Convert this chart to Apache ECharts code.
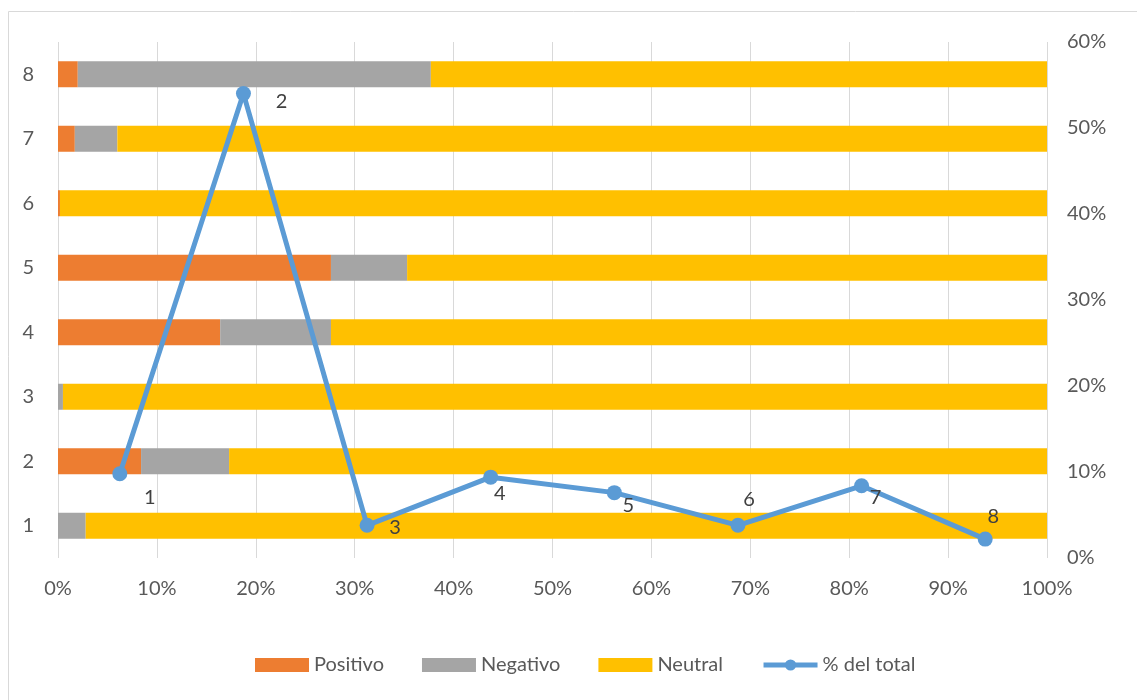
<!DOCTYPE html>
<html>
<head>
<meta charset="utf-8">
<script src="https://cdn.jsdelivr.net/npm/echarts@6/dist/echarts.min.js"></script>
<style>
  html, body { margin: 0; padding: 0; background: #fff; }
  #chart { width: 1137px; height: 700px; }
</style>
</head>
<body>
<div id="chart"></div>
<script>
// categorias
var categories = ['1', '2', '3', '4', '5', '6', '7', '8'];
// valores en % (apilados hasta 100)
var positivo = [0, 8.4, 0, 16.4, 27.6, 0.2, 1.7, 2.0];
var negativo = [2.8, 8.9, 0.5, 11.2, 7.7, 0, 4.3, 35.7];
var neutral = [97.2, 82.7, 99.5, 72.4, 64.7, 99.8, 94.0, 62.3];
// % del total (eje derecho)
var delTotal = [9.8, 54.0, 3.8, 9.4, 7.6, 3.8, 8.4, 2.2];
// posicion de las etiquetas de la linea
var labelOffsets = [[30, 24], [38, 8], [28, 2], [9, 16], [14, 13], [11, -26], [14, 12], [8, -23]];

var chart = echarts.init(document.getElementById('chart'));
var font = 'Lato, "Liberation Sans", sans-serif';
var txt = '#595959';

var lineData = delTotal.map(function (v, i) {
    return {
        value: v,
        label: { show: true, position: 'inside', offset: labelOffsets[i], formatter: categories[i] }
    };
});

var option = {
    animation: false,
    textStyle: { fontFamily: font },
    graphic: [{
        type: 'rect',
        shape: { x: 8.5, y: 11.5, width: 1140, height: 700 },
        style: { fill: 'none', stroke: '#d9d9d9', lineWidth: 1 }
    }],
    grid: { left: 58, right: 90, top: 42, bottom: 142 },
    legend: {
        bottom: 20,
        left: 250,
        itemWidth: 54,
        itemHeight: 14,
        itemGap: 38,
        textStyle: { fontSize: 20, color: txt, fontFamily: font },
        data: [
            { name: 'Positivo', icon: 'rect' },
            { name: 'Negativo', icon: 'rect' },
            { name: 'Neutral', icon: 'rect' },
            { name: '% del total', lineStyle: { width: 5 } }
        ]
    },
    xAxis: [{
        type: 'value',
        min: 0,
        max: 100,
        interval: 10,
        axisLine: { show: false },
        axisTick: { show: false },
        axisLabel: { formatter: '{value}%', fontSize: 20, color: txt, margin: 21 },
        splitLine: { show: true, lineStyle: { color: '#d9d9d9', width: 1 } }
    }, {
        type: 'category',
        data: categories,
        show: false,
        boundaryGap: true
    }],
    yAxis: [{
        type: 'category',
        data: categories,
        axisLine: { show: false },
        axisTick: { show: false },
        axisLabel: { fontSize: 20, color: txt, margin: 24 },
        splitLine: { show: false }
    }, {
        type: 'value',
        position: 'right',
        min: 0,
        max: 60,
        interval: 10,
        axisLine: { show: false },
        axisTick: { show: false },
        axisLabel: { formatter: '{value}%', fontSize: 20, color: txt, margin: 20 },
        splitLine: { show: false }
    }],
    series: [{
        name: 'Positivo',
        type: 'bar',
        stack: 'total',
        barWidth: 26,
        itemStyle: { color: '#ed7d31' },
        data: positivo
    }, {
        name: 'Negativo',
        type: 'bar',
        stack: 'total',
        barWidth: 26,
        itemStyle: { color: '#a5a5a5' },
        data: negativo
    }, {
        name: 'Neutral',
        type: 'bar',
        stack: 'total',
        barWidth: 26,
        itemStyle: { color: '#ffc000' },
        data: neutral
    }, {
        name: '% del total',
        type: 'line',
        xAxisIndex: 1,
        yAxisIndex: 1,
        symbol: 'circle',
        symbolSize: 15,
        lineStyle: { color: '#5b9bd5', width: 5 },
        itemStyle: { color: '#5b9bd5' },
        label: { fontSize: 20, color: '#404040' },
        z: 5,
        data: lineData
    }]
};

chart.setOption(option);
</script>
</body>
</html>
